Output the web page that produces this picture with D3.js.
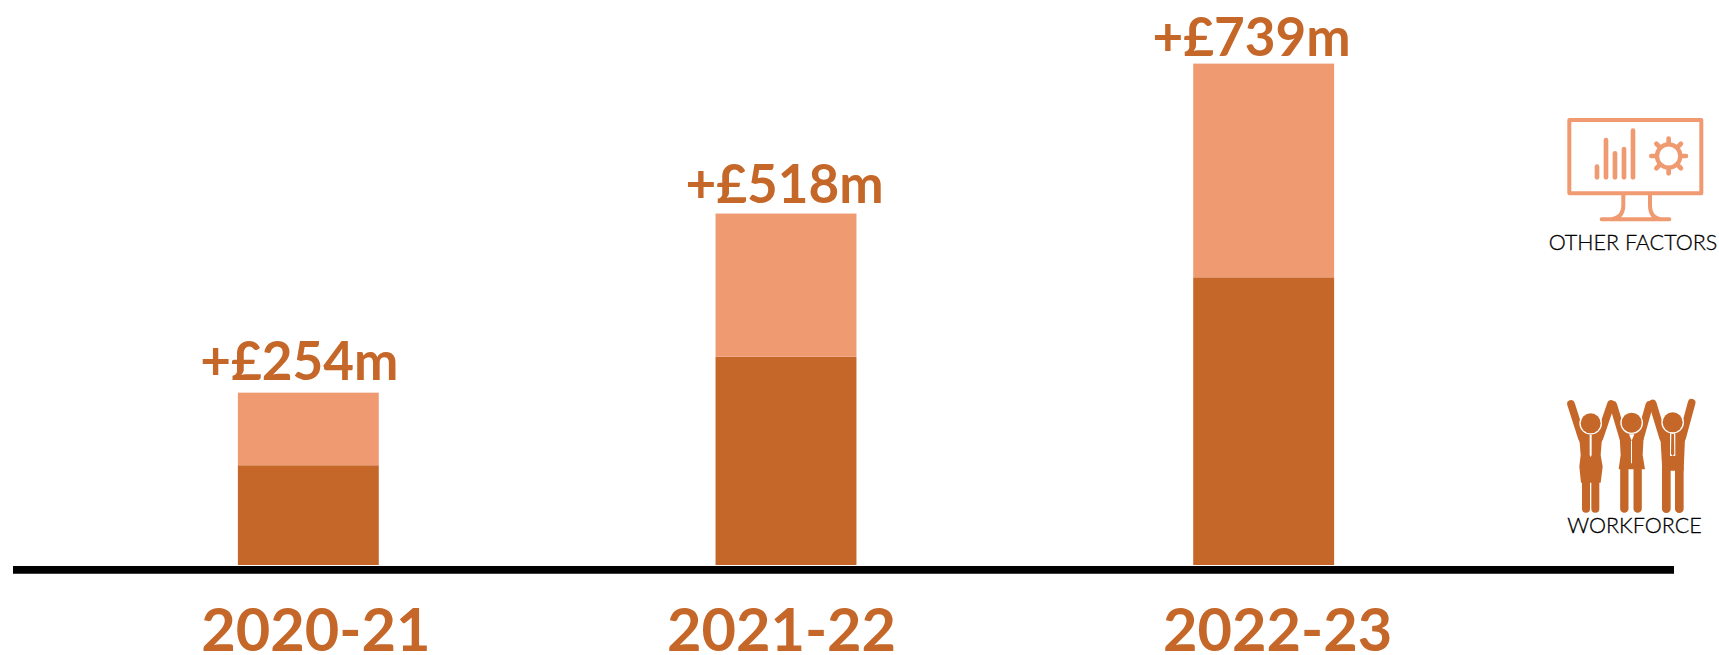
<!DOCTYPE html>
<html>
<head>
<meta charset="utf-8">
<script src="https://cdn.jsdelivr.net/npm/d3@7"></script>
<style>
html,body{margin:0;padding:0;background:#fff;overflow:hidden}
svg{display:block}
text{font-family:Lato,"Open Sans",sans-serif}
</style>
</head>
<body>
<div id="chart"></div>
<script>
// data
var years = ["2020-21", "2021-22", "2022-23"];
var workforce = [147, 307, 424];
var otherFactors = [107, 211, 315];
var totalLabels = ["+£254m", "+£518m", "+£739m"];
var seriesKeys = ["workforce", "other"];
var legendLabels = ["OTHER FACTORS", "WORKFORCE"];

var W = 1719, H = 655;
var dark = "#c46729", light = "#f09a72";

var svg = d3.select("#chart").append("svg").attr("width", W).attr("height", H);

// scales
var x = d3.scaleBand().domain(years).range([69.5, 1502.5]).paddingInner(0.705).paddingOuter(0.3525);
var y = d3.scaleLinear().domain([0, 739]).range([565, 63.6]);

var rows = years.map(function(d, i) {
    return {year: d, workforce: workforce[i], other: otherFactors[i]};
});
var stacked = d3.stack().keys(seriesKeys)(rows);

// bars
svg.selectAll(".layer")
    .data(stacked)
    .enter()
    .append("g")
    .attr("class", "layer")
    .attr("fill", function(d) { return d.key === "workforce" ? dark : light; })
    .selectAll("rect")
    .data(function(d) { return d; })
    .enter()
    .append("rect")
    .attr("x", function(d) { return x(d.data.year); })
    .attr("width", x.bandwidth())
    .attr("y", function(d) { return y(d[1]); })
    .attr("height", function(d) { return y(d[0]) - y(d[1]); });

// baseline
svg.append("line")
    .attr("x1", 13).attr("x2", 1674)
    .attr("y1", 569.9).attr("y2", 569.9)
    .attr("stroke", "#000").attr("stroke-width", 7.7);

// x axis labels, the source sets them a little off the bar centres
var yearShift = [7.5, -4.5, 14];
var axis = svg.append("g")
    .attr("transform", "translate(0,570)")
    .call(d3.axisBottom(x).tickSize(0).tickPadding(0));
axis.select(".domain").remove();
axis.selectAll("text")
    .attr("x", function(d, i) { return yearShift[i]; })
    .attr("y", 80.5)
    .attr("dy", 0)
    .attr("fill", dark)
    .style("font-family", "Lato")
    .style("font-size", "59.5px")
    .style("font-weight", 700);

// totals above the bars
var totalShift = [-9, -1.5, -12];
var totalGap = [13, 11, 7.5];
svg.selectAll(".total")
    .data(rows)
    .enter()
    .append("text")
    .attr("class", "total")
    .attr("x", function(d, i) { return x(d.year) + x.bandwidth() / 2 + totalShift[i]; })
    .attr("y", function(d, i) { return y(d.workforce + d.other) - totalGap[i]; })
    .attr("text-anchor", "middle")
    .attr("fill", dark)
    .style("font-size", "53px")
    .style("font-weight", 700)
    .text(function(d, i) { return totalLabels[i]; });

// legend captions
svg.append("text").attr("x", 1633).attr("y", 250).attr("text-anchor", "middle")
    .attr("fill", "#000").attr("stroke", "#000").attr("stroke-width", 0.3)
    .style("font-size", "21.5px").style("font-weight", 300).text(legendLabels[0]);
svg.append("text").attr("x", 1634.5).attr("y", 533).attr("text-anchor", "middle")
    .attr("fill", "#000").attr("stroke", "#000").attr("stroke-width", 0.3)
    .style("font-size", "21.5px").style("font-weight", 300).text(legendLabels[1]);

// monitor icon, drawn in the 3x zoomed frame of the icon
var monitor = svg.append("g")
    .attr("transform", "translate(1530,90) scale(0.3333)")
    .attr("fill", "none").attr("stroke", light).attr("stroke-linecap", "round").attr("stroke-linejoin", "round");
monitor.append("rect").attr("x", 118).attr("y", 90).attr("width", 396).attr("height", 220).attr("stroke-width", 12);
[[201, 230], [228, 150], [255, 190], [282, 177], [309, 122]].forEach(function(b) {
    monitor.append("line").attr("x1", b[0]).attr("x2", b[0]).attr("y1", b[1]).attr("y2", 262).attr("stroke-width", 14);
});
monitor.append("circle").attr("cx", 416).attr("cy", 198).attr("r", 35).attr("stroke-width", 13);
d3.range(8).forEach(function(i) {
    var a = i * Math.PI / 4;
    monitor.append("line")
        .attr("x1", 416 + 38 * Math.cos(a)).attr("y1", 198 + 38 * Math.sin(a))
        .attr("x2", 416 + 52 * Math.cos(a)).attr("y2", 198 + 52 * Math.sin(a))
        .attr("stroke-width", 14);
});
monitor.append("path").attr("stroke-width", 12)
    .attr("d", "M280,312V345Q280,388 235,388M360,312V345Q360,388 400,388M215,388H418");

// workforce icon
var people = svg.append("g")
    .attr("transform", "translate(1530,380) scale(0.3333)")
    .attr("fill", dark);

function limb(x1, y1, x2, y2, w) {
    people.append("line").attr("x1", x1).attr("y1", y1).attr("x2", x2).attr("y2", y2)
        .attr("stroke", dark).attr("stroke-width", w).attr("stroke-linecap", "round");
}
function poly(pts, col) {
    people.append("polygon").attr("points", pts).attr("fill", col || dark);
}
function head(cx, cy) {
    people.append("circle").attr("cx", cx).attr("cy", cy).attr("r", 34).attr("fill", "#fff");
    people.append("circle").attr("cx", cx).attr("cy", cy).attr("r", 30);
}

// woman
limb(123, 72, 156, 175, 23); limb(243, 72, 208, 175, 23);
poly("146,150 218,150 212,225 218,260 212,308 153,308 148,260 152,225");
limb(168, 305, 168, 386, 24); limb(196, 305, 196, 386, 24);
head(182, 130);
poly("179,165 185,165 185,225 182,232 179,225", "#fff");

// woman in jacket
limb(250, 75, 280, 175, 23); limb(358, 75, 330, 175, 23);
poly("268,150 342,150 338,225 345,268 266,268 272,225");
limb(283, 270, 283, 386, 25); limb(323, 270, 323, 386, 25);
head(305, 128);
poly("297,163 313,163 305,182", "#fff");
poly("303,182 306,182 306,250 303,250", "#fff");

// man with tie
limb(368, 70, 400, 175, 23); limb(485, 68, 456, 175, 23);
poly("390,150 466,150 461,272 397,272");
limb(409, 265, 409, 386, 26); limb(448, 265, 448, 386, 26);
head(428, 127);
poly("420,160 436,160 436,228 420,228", "#fff");
poly("424,162 432,162 433,222 428,228 423,222");
</script>
</body>
</html>
